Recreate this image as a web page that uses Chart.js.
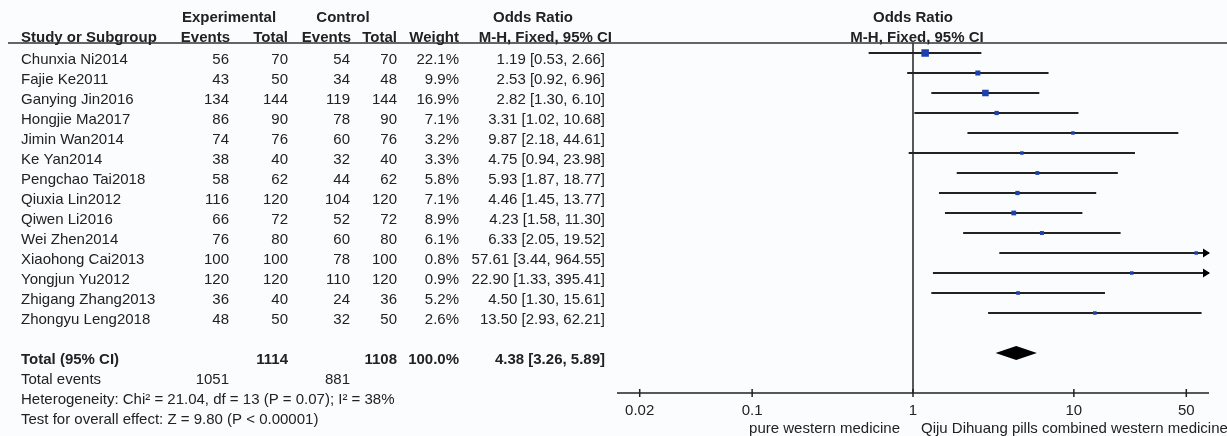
<!DOCTYPE html>
<html>
<head>
<meta charset="utf-8">
<title>Forest plot</title>
<script src="https://cdn.jsdelivr.net/npm/chart.js@4.4.1/dist/chart.umd.min.js"></script>
<style>
    html, body { margin: 0; padding: 0; background: #fbfcfe; }
    canvas { display: block; }
</style>
</head>
<body>
<canvas id="forestChart" width="1227" height="436"></canvas>
<script>
"use strict";

// study rows
const studies = ['Chunxia Ni2014', 'Fajie Ke2011', 'Ganying Jin2016', 'Hongjie Ma2017', 'Jimin Wan2014',
    'Ke Yan2014', 'Pengchao Tai2018', 'Qiuxia Lin2012', 'Qiwen Li2016', 'Wei Zhen2014',
    'Xiaohong Cai2013', 'Yongjun Yu2012', 'Zhigang Zhang2013', 'Zhongyu Leng2018'];
const expEvents = [56, 43, 134, 86, 74, 38, 58, 116, 66, 76, 100, 120, 36, 48];
const expTotal = [70, 50, 144, 90, 76, 40, 62, 120, 72, 80, 100, 120, 40, 50];
const ctlEvents = [54, 34, 119, 78, 60, 32, 44, 104, 52, 60, 78, 110, 24, 32];
const ctlTotal = [70, 48, 144, 90, 76, 40, 62, 120, 72, 80, 100, 120, 36, 50];
const weights = [22.1, 9.9, 16.9, 7.1, 3.2, 3.3, 5.8, 7.1, 8.9, 6.1, 0.8, 0.9, 5.2, 2.6];
const oddsRatio = [1.19, 2.53, 2.82, 3.31, 9.87, 4.75, 5.93, 4.46, 4.23, 6.33, 57.61, 22.90, 4.50, 13.50];
const ciLower = [0.53, 0.92, 1.30, 1.02, 2.18, 0.94, 1.87, 1.45, 1.58, 2.05, 3.44, 1.33, 1.30, 2.93];
const ciUpper = [2.66, 6.96, 6.10, 10.68, 44.61, 23.98, 18.77, 13.77, 11.30, 19.52, 964.55, 395.41, 15.61, 62.21];

// pooled result: [odds ratio, lower, upper]
const pooled = [4.38, 3.26, 5.89];
const totalParticipants = [1114, 1108];
const totalEvents = [1051, 881];
const heterogeneityText = 'Heterogeneity: Chi\u00b2 = 21.04, df = 13 (P = 0.07); I\u00b2 = 38%';
const overallText = 'Test for overall effect: Z = 9.80 (P < 0.00001)';

const axisTicks = [0.02, 0.1, 1, 10, 50];
const axisLabels = ['pure western medicine', 'Qiju Dihuang pills combined western medicine'];

const TOTAL_ROW = studies.length + 1;
const INK = '#222';
const SQUARE = '#1c40b0';
const FONT = '"Liberation Sans", Arial, sans-serif';

const fmt = v => v.toFixed(2);

/**
 * Draws the table on the left, the header rule, the pooled diamond,
 * the overflow arrows and the log axis.
 */
const forestTable = {
    id: 'forestTable',

    beforeDraw: function (chart) {
        const ctx = chart.ctx;
        ctx.save();
        ctx.fillStyle = '#fbfcfe';
        ctx.fillRect(0, 0, chart.width, chart.height);
        ctx.restore();
    },

    afterDatasetsDraw: function (chart) {
        const ctx = chart.ctx;
        const x = chart.scales.x;
        const y = chart.scales.y;

        ctx.save();
        // pooled diamond
        const yd = y.getPixelForValue(TOTAL_ROW);
        ctx.fillStyle = '#000';
        ctx.beginPath();
        ctx.moveTo(x.getPixelForValue(pooled[1]), yd);
        ctx.lineTo(x.getPixelForValue(pooled[0]), yd - 7);
        ctx.lineTo(x.getPixelForValue(pooled[2]), yd);
        ctx.lineTo(x.getPixelForValue(pooled[0]), yd + 7);
        ctx.closePath();
        ctx.fill();

        // arrows for intervals running off the right end
        ciUpper.forEach(function (hi, i) {
            if (hi <= x.max) return;
            const yp = y.getPixelForValue(i);
            const xr = x.right;
            ctx.beginPath();
            ctx.moveTo(xr + 1, yp);
            ctx.lineTo(xr - 6, yp - 4.5);
            ctx.lineTo(xr - 6, yp + 4.5);
            ctx.closePath();
            ctx.fill();
        });
        ctx.restore();
    },

    afterDraw: function (chart) {
        const ctx = chart.ctx;
        const x = chart.scales.x;
        const y = chart.scales.y;
        const area = chart.chartArea;

        function text(str, px, py, align, bold) {
            ctx.font = (bold ? 'bold ' : '') + '15px ' + FONT;
            ctx.textAlign = align;
            ctx.fillText(str, px, py);
        }

        ctx.save();
        ctx.fillStyle = INK;
        ctx.textBaseline = 'alphabetic';

        // header rule across the whole figure
        ctx.strokeStyle = '#333';
        ctx.lineWidth = 1.5;
        ctx.beginPath();
        ctx.moveTo(8, area.top);
        ctx.lineTo(chart.width, area.top);
        ctx.stroke();

        // header text
        text('Experimental', 229, 22, 'center', true);
        text('Control', 343, 22, 'center', true);
        text('Odds Ratio', 533, 22, 'center', true);
        text('Odds Ratio', x.getPixelForValue(1), 22, 'center', true);
        text('Study or Subgroup', 21, 42, 'left', true);
        text('Events', 230, 42, 'right', true);
        text('Total', 288, 42, 'right', true);
        text('Events', 351, 42, 'right', true);
        text('Total', 397, 42, 'right', true);
        text('Weight', 459, 42, 'right', true);
        text('M-H, Fixed, 95% CI', 612, 42, 'right', true);
        text('M-H, Fixed, 95% CI', x.getPixelForValue(1) + 4, 42, 'center', true);

        // study rows
        studies.forEach(function (name, i) {
            const py = y.getPixelForValue(i) + 11;
            text(name, 21, py, 'left');
            text(String(expEvents[i]), 229, py, 'right');
            text(String(expTotal[i]), 288, py, 'right');
            text(String(ctlEvents[i]), 350, py, 'right');
            text(String(ctlTotal[i]), 397, py, 'right');
            text(weights[i].toFixed(1) + '%', 459, py, 'right');
            text(fmt(oddsRatio[i]) + ' [' + fmt(ciLower[i]) + ', ' + fmt(ciUpper[i]) + ']', 605, py, 'right');
        });

        // totals
        let py = y.getPixelForValue(TOTAL_ROW) + 11;
        text('Total (95% CI)', 21, py, 'left', true);
        text(String(totalParticipants[0]), 288, py, 'right', true);
        text(String(totalParticipants[1]), 397, py, 'right', true);
        text('100.0%', 459, py, 'right', true);
        text(fmt(pooled[0]) + ' [' + fmt(pooled[1]) + ', ' + fmt(pooled[2]) + ']', 605, py, 'right', true);

        py = y.getPixelForValue(TOTAL_ROW + 1) + 11;
        text('Total events', 21, py, 'left');
        text(String(totalEvents[0]), 229, py, 'right');
        text(String(totalEvents[1]), 350, py, 'right');
        text(heterogeneityText, 21, y.getPixelForValue(TOTAL_ROW + 2) + 11, 'left');
        text(overallText, 21, y.getPixelForValue(TOTAL_ROW + 3) + 11, 'left');

        // log axis with crossing ticks
        ctx.strokeStyle = INK;
        ctx.lineWidth = 1.5;
        ctx.beginPath();
        ctx.moveTo(area.left, area.bottom);
        ctx.lineTo(area.right, area.bottom);
        axisTicks.forEach(function (t) {
            const px = x.getPixelForValue(t);
            ctx.moveTo(px, area.bottom - 4);
            ctx.lineTo(px, area.bottom + 4);
        });
        ctx.stroke();
        axisTicks.forEach(function (t) {
            text(String(t), x.getPixelForValue(t), area.bottom + 22, 'center');
        });
        text(axisLabels[0], x.getPixelForValue(1) - 13, area.bottom + 40, 'right');
        text(axisLabels[1], x.getPixelForValue(1) + 8, area.bottom + 40, 'left');

        ctx.restore();
    }
};

// one line per confidence interval
const ciDatasets = studies.map(function (name, i) {
    return {
        label: name,
        data: [{ x: ciLower[i], y: i }, { x: ciUpper[i], y: i }],
        showLine: true,
        borderColor: INK,
        borderWidth: 2,
        pointRadius: 0
    };
});

const ctx = document.getElementById('forestChart').getContext('2d');
new Chart(ctx, {
    type: 'scatter',
    data: {
        datasets: ciDatasets.concat([
            {
                label: 'no effect',
                data: [{ x: 1, y: -0.5 }, { x: 1, y: TOTAL_ROW + 2 }],
                showLine: true,
                borderColor: INK,
                borderWidth: 1.5,
                pointRadius: 0
            },
            {
                // squares sized by weight, drawn above the interval lines
                label: 'odds ratio',
                order: -1,
                data: oddsRatio.map((v, i) => ({ x: v, y: i })),
                pointStyle: 'rect',
                backgroundColor: SQUARE,
                pointBorderWidth: 0,
                pointRadius: weights.map(w => Math.max(3.5, 7.5 * Math.sqrt(w / 22.1)) / Math.SQRT2)
            }
        ])
    },
    options: {
        responsive: false,
        animation: false,
        layout: { padding: { left: 617, right: 18, top: 43, bottom: 43 } },
        plugins: { legend: { display: false }, tooltip: { enabled: false } },
        scales: {
            x: { type: 'logarithmic', min: 0.01445, max: 69.2, display: false },
            y: { type: 'linear', min: -0.5, max: TOTAL_ROW + 2, reverse: true, display: false }
        }
    },
    plugins: [forestTable]
});
</script>
</body>
</html>
